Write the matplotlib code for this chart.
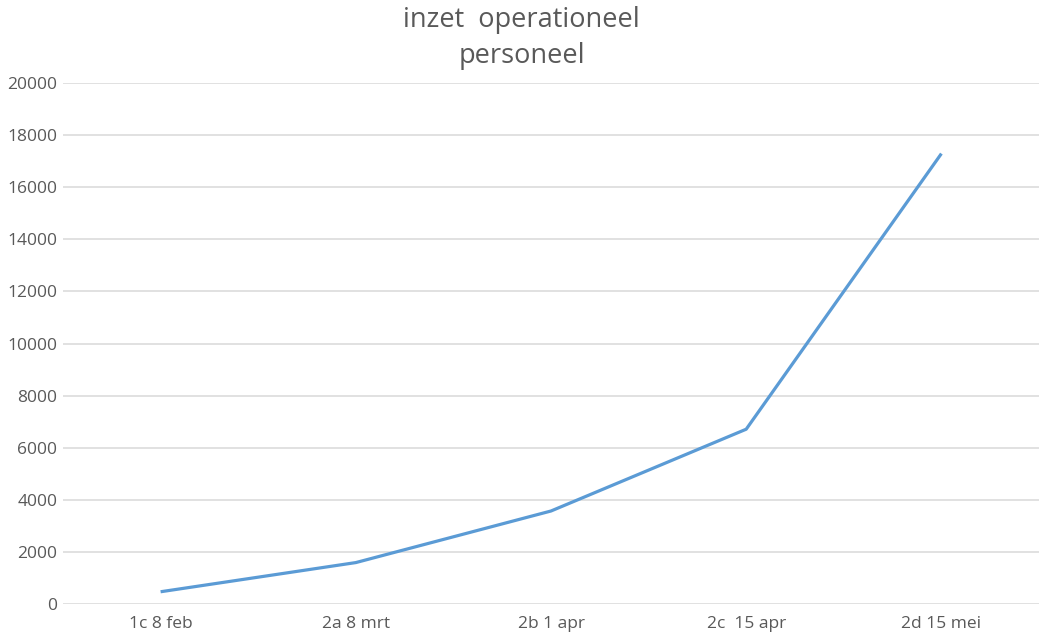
import matplotlib
matplotlib.use('Agg')
import matplotlib.pyplot as plt

# data
categories = ['1c 8 feb', '2a 8 mrt', '2b 1 apr', '2c  15 apr', '2d 15 mei']
values = [470, 1590, 3570, 6710, 17290]
y_ticks = list(range(0, 20001, 2000))

plt.rcParams['font.family'] = ['Open Sans', 'DejaVu Sans']

fig = plt.figure(figsize=(10.43, 6.36), dpi=100)
# plot area: x 63..1039 px, y 83..604 px
ax = fig.add_axes([63 / 1043, 32 / 636, 976 / 1043, 521 / 636])

x = list(range(len(categories)))
ax.plot(x, values, color='#5B9BD5', linewidth=2.3, solid_capstyle='butt', zorder=3)

ax.set_xlim(-0.5, 4.5)
ax.set_ylim(0, 20000)
ax.set_xticks(x)
ax.set_xticklabels(categories)
ax.set_yticks(y_ticks)
ax.set_yticklabels([str(v) for v in y_ticks])

ax.grid(True, axis='y', color='#D9D9D9', linewidth=1.1, zorder=0)
for s in ax.spines.values():
    s.set_visible(False)
ax.tick_params(axis='both', length=0, labelsize=12.5, colors='#595959')
ax.tick_params(axis='x', pad=9)
ax.tick_params(axis='y', pad=4)

fig.text(0.5, 0.991, 'inzet  operationeel\npersoneel', ha='center', va='top',
         fontsize=19.5, color='#595959', linespacing=1.4)

fig.savefig('out.png', dpi=100, facecolor='white')
